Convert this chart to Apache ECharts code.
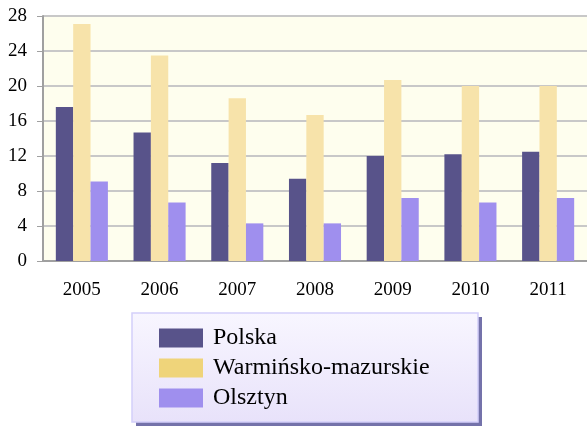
<!DOCTYPE html>
<html>
<head>
<meta charset="utf-8">
<script src="https://cdn.jsdelivr.net/npm/echarts@6/dist/echarts.min.js"></script>
<style>
  html, body { margin: 0; padding: 0; background: #fff; }
  #main { width: 587px; height: 426px; }
</style>
</head>
<body>
<div id="main"></div>
<script>
const years = ['2005', '2006', '2007', '2008', '2009', '2010', '2011'];
const polska = [17.6, 14.7, 11.2, 9.4, 12.0, 12.2, 12.5];
const warminsko = [27.1, 23.5, 18.6, 16.7, 20.7, 20.0, 20.0];
const olsztyn = [9.1, 6.7, 4.3, 4.3, 7.2, 6.7, 7.2];
const seriesNames = ['Polska', 'Warmińsko-mazurskie', 'Olsztyn'];

const barColors = ['#58538a', '#f7e3aa', '#9f8fee'];
const legendColors = ['#58538a', '#efd47a', '#9f8fee'];
const serif = '"Liberation Serif", "DejaVu Serif", serif';

const chart = echarts.init(document.getElementById('main'));

const option = {
  animation: false,
  grid: { left: 43, right: 0, top: 16, bottom: 165, containLabel: false },
  graphic: [{
    // legend box shadow
    type: 'rect',
    z: 0,
    shape: { x: 136, y: 317, width: 346, height: 109 },
    style: { fill: '#7472aa' }
  }, {
    type: 'rect',
    z: 1,
    shape: { x: 132, y: 313, width: 346, height: 109 },
    style: {
      fill: new echarts.graphic.LinearGradient(0, 0, 0, 1, [
        { offset: 0, color: '#f8f6ff' },
        { offset: 1, color: '#e8e2fa' }
      ]),
      stroke: '#d4d0fa',
      lineWidth: 1.5
    }
  }],
  legend: {
    orient: 'vertical',
    left: 154,
    top: 321,
    itemWidth: 44,
    itemHeight: 19,
    itemGap: 6,
    icon: 'rect',
    textStyle: { fontFamily: serif, fontSize: 24, color: '#000', padding: [0, 0, 0, 5] },
    data: seriesNames.map((n, i) => ({ name: n, itemStyle: { color: legendColors[i] } })),
    z: 5
  },
  xAxis: {
    type: 'category',
    data: years,
    axisLine: { lineStyle: { color: '#a0a0a0', width: 2 } },
    axisTick: { show: false },
    axisLabel: { fontFamily: serif, fontSize: 19, color: '#000', margin: 20 }
  },
  yAxis: {
    type: 'value',
    min: 0,
    max: 28,
    interval: 4,
    axisLine: { show: true, lineStyle: { color: '#a0a0a0', width: 2 } },
    axisTick: { show: true, length: 6, lineStyle: { color: '#a0a0a0' } },
    axisLabel: { fontFamily: serif, fontSize: 19, color: '#000', margin: 16 },
    splitLine: { lineStyle: { color: '#c8c8c8', width: 2 } },
    splitArea: { show: true, areaStyle: { color: ['#fefeee', '#fefeee'] } }
  },
  series: [
    { name: seriesNames[0], type: 'bar', data: polska, barGap: 0, barCategoryGap: '33%', itemStyle: { color: barColors[0] } },
    { name: seriesNames[1], type: 'bar', data: warminsko, barGap: 0, barCategoryGap: '33%', itemStyle: { color: barColors[1] } },
    { name: seriesNames[2], type: 'bar', data: olsztyn, barGap: 0, barCategoryGap: '33%', itemStyle: { color: barColors[2] } }
  ]
};

chart.setOption(option);
</script>
</body>
</html>
